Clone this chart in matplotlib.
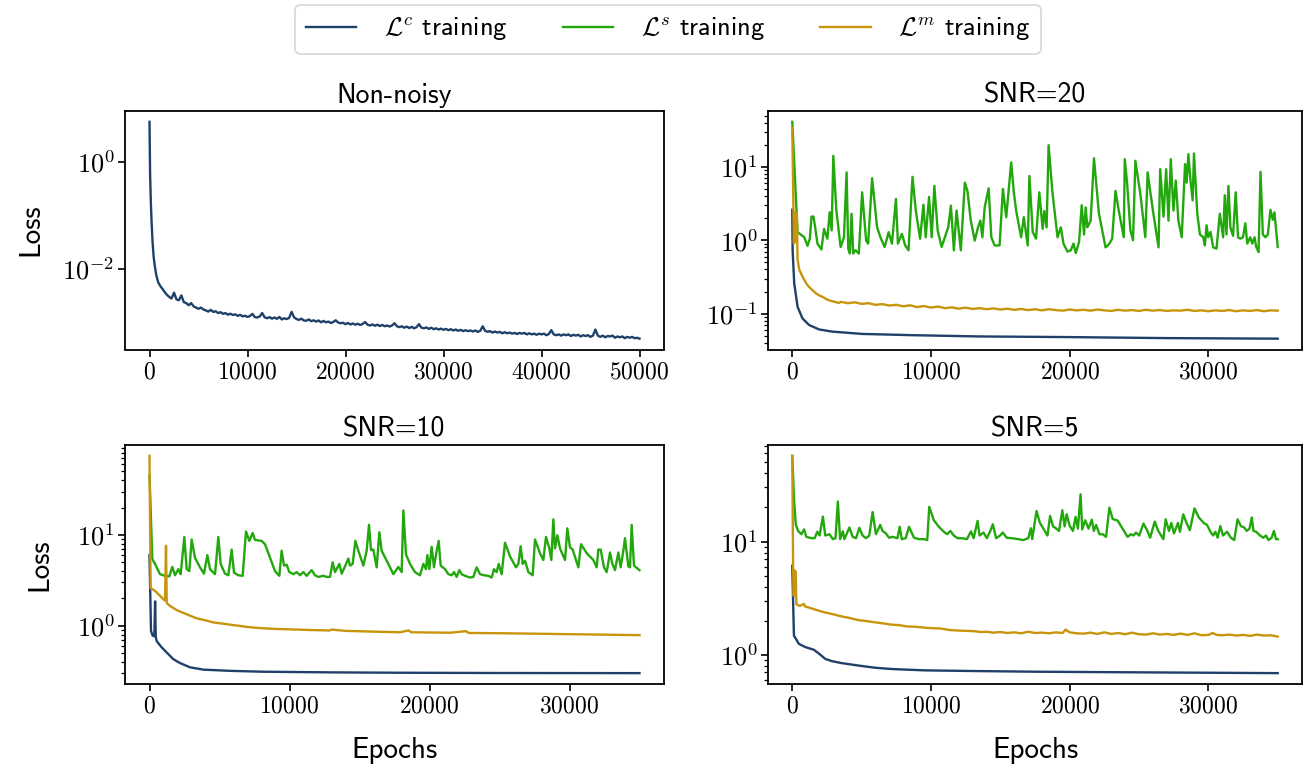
import numpy as np
import matplotlib
matplotlib.use("Agg")
import matplotlib.pyplot as plt
from matplotlib.ticker import FixedLocator, FuncFormatter, LogLocator, NullLocator, NullFormatter

# ---------------- data ----------------
series_labels = [r"$\mathcal{L}^c$ training", r"$\mathcal{L}^s$ training", r"$\mathcal{L}^m$ training"]
panel_titles = ["Non-noisy", "SNR=20", "SNR=10", "SNR=5"]

# Non-noisy, L^c : early decay, then a regular grid every 250 epochs
nn_c_ep_early = [0, 60, 134, 220, 312, 420, 534, 700, 890, 1100, 1336, 1700]
nn_c_val_early = [5.5, 0.6, 0.18, 0.07, 0.032, 0.017, 0.0115, 0.0075, 0.0056, 0.0048, 0.0042, 0.0034]
nn_c_ep_late = list(range(2000, 50001, 250))
nn_c_val_late = [
    0.0030, 0.0028, 0.0036, 0.0027, 0.0026, 0.0032, 0.0024, 0.0023, 0.0021, 0.0023, 0.0020, 0.0019,
    0.0018, 0.0019, 0.00175, 0.00168, 0.0016, 0.00172, 0.00158, 0.00162, 0.0015, 0.00156, 0.00145, 0.0015,
    0.0014, 0.00146, 0.00138, 0.00142, 0.00133, 0.00139, 0.0013, 0.00134, 0.00127, 0.00132, 0.00145, 0.00126,
    0.00124, 0.0013, 0.0015, 0.00125, 0.0012, 0.00126, 0.00118, 0.00124, 0.00117, 0.00127, 0.00114, 0.0012,
    0.00116, 0.00122, 0.00158, 0.00125, 0.00116, 0.00112, 0.00118, 0.00109, 0.00108, 0.00114, 0.00106, 0.0011,
    0.00104, 0.00109, 0.00101, 0.00107, 0.00101, 0.00104, 0.00098, 0.00102, 0.0011, 0.0010, 0.00097, 0.00099,
    0.00093, 0.00098, 0.00092, 0.00096, 0.00091, 0.00095, 0.0009, 0.00094, 0.00102, 0.00091, 0.00088, 0.00092,
    0.00087, 0.00091, 0.00086, 0.0009, 0.00085, 0.00088, 0.00084, 0.00088, 0.00097, 0.00085, 0.00082, 0.00085,
    0.0008, 0.00084, 0.00079, 0.00083, 0.00078, 0.00082, 0.00093, 0.0008, 0.00078, 0.00081, 0.00076, 0.0008,
    0.00075, 0.00078, 0.00074, 0.00077, 0.00073, 0.00076, 0.00072, 0.00075, 0.00071, 0.00074, 0.0007, 0.00073,
    0.00069, 0.00072, 0.00069, 0.00071, 0.00068, 0.00071, 0.00067, 0.0007, 0.00085, 0.0007, 0.00067, 0.00069,
    0.00065, 0.00068, 0.00065, 0.00067, 0.00063, 0.00066, 0.00063, 0.00065, 0.00062, 0.00064, 0.00061, 0.00064,
    0.00062, 0.00064, 0.0006, 0.00063, 0.0006, 0.00062, 0.00059, 0.00062, 0.0006, 0.00062, 0.00058, 0.00061,
    0.00072, 0.0006, 0.00058, 0.0006, 0.00057, 0.0006, 0.00058, 0.0006, 0.00056, 0.00059, 0.00057, 0.00059,
    0.00055, 0.00058, 0.00056, 0.00058, 0.00054, 0.00057, 0.00074, 0.00057, 0.00054, 0.00057, 0.00053, 0.00056,
    0.00055, 0.00057, 0.00052, 0.00055, 0.00053, 0.00055, 0.00051, 0.00054, 0.00052, 0.00054, 0.00051, 0.00052,
    0.0005]
nn_c_ep = nn_c_ep_early + nn_c_ep_late
nn_c_val = nn_c_val_early + nn_c_val_late

# SNR=20
s20_c_ep = [0, 25, 140, 382, 740, 1218, 1935, 2890, 5038, 8620, 13400, 20000, 27000, 35000]
s20_c_val = [2.6, 0.73, 0.26, 0.124, 0.086, 0.070, 0.061, 0.057, 0.053, 0.051, 0.049, 0.048, 0.0465, 0.0457]

s20_s_ep = [0, 382, 549, 860, 1098, 1266, 1385, 1528, 1648, 1815, 2101, 2292, 2531, 2698, 2841, 2960,
            3176, 3486, 3725, 3916, 4035, 4155, 4274, 4393, 4560, 4799, 5038, 5325, 5468, 5755, 6113,
            6352, 6662, 6948, 7187, 7474, 7617, 7904, 8142, 8381, 8668, 8906, 9217, 9455, 9622, 9861,
            10052, 10243, 10482, 10768, 11007, 11246, 11437, 11652, 11843, 12153, 12440, 12631, 12870,
            13156, 13395, 13562, 13705, 13872, 14159, 14350, 14589, 14947, 15186, 15425, 15544, 15783,
            15974, 16141, 16499, 16690, 16976, 17096, 17335, 17573, 17812, 18051, 18170, 18337, 18480,
            18767, 19125, 19364, 19555, 19841, 20080, 20271, 20438, 20677, 20868, 21035, 21155, 21274,
            21513, 21752, 22110, 22587, 22826, 23065, 23304, 23543, 23901, 23972, 24139, 24378, 24569,
            24736, 25094, 25452, 25619, 26001, 26407, 26526, 26765, 26956, 27123, 27290, 27481, 27648,
            27839, 28078, 28317, 28436, 28556, 28723, 28866, 28962, 29200, 29391, 29630, 29749, 29869,
            29988, 30155, 30346, 30585, 30824, 31062, 31182, 31301, 31444, 31588, 31779, 31970, 32137,
            32304, 32495, 32662, 32805, 33020, 33163, 33330, 33450, 33617, 33760, 33927, 34118, 34285,
            34476, 34643, 34762, 35000]
s20_s_val = [41, 1.29, 1.22, 1.10, 0.84, 1.05, 2.10, 2.10, 1.51, 0.90, 0.75, 1.43, 1.05, 2.41, 1.36, 14.1,
             2.54, 0.81, 1.10, 8.4, 0.77, 0.66, 2.29, 0.66, 0.73, 0.66, 4.5, 0.99, 0.90, 7.0, 1.51,
             1.10, 0.81, 1.29, 0.90, 3.65, 0.90, 1.22, 0.85, 0.73, 7.3, 2.54, 1.05, 3.05, 1.10, 3.9,
             1.10, 5.5, 1.36, 0.81, 1.10, 1.51, 2.96, 0.73, 2.54, 0.73, 6.1, 4.7, 1.85,
             0.99, 1.51, 1.85, 1.10, 2.81, 5.1, 1.10, 0.85, 0.85, 5.0, 2.06, 3.65, 11.5,
             4.5, 2.54, 1.10, 2.06, 0.85, 7.5, 1.3, 1.05, 4.5, 1.43, 2.5, 1.5, 19.7,
             4.3, 1.10, 1.5, 0.90, 0.70, 0.73, 0.90, 0.67, 0.95, 3.0, 1.2, 2.8, 1.5,
             1.85, 13.1, 2.3, 0.80, 0.88, 1.05, 4.7, 2.5, 1.10, 12.7, 6.1, 1.36, 1.0,
             12.1, 4.3, 1.10, 8.4, 2.54, 0.80, 9.3, 2.1, 9.3, 1.85, 12.7, 2.54, 6.5,
             1.85, 1.10, 10.9, 6.1, 14.9, 6.1, 3.5, 15.2, 2.3, 1.2, 1.1, 0.85, 1.6,
             1.1, 1.3, 0.80, 0.77, 2.3, 1.1, 4.1, 1.2, 5.5, 1.5, 1.15, 4.5, 1.1,
             1.05, 1.1, 1.7, 0.90, 1.1, 0.90, 1.1, 0.81, 0.69, 8.55, 1.2, 1.1, 1.2,
             2.6, 1.9, 2.4, 0.81]

s20_m_ep = [0, 120, 160, 200, 240, 280, 330, 360, 382, 500, 740, 1000, 1218, 1450, 1695, 2000, 2173,
            2400, 2650, 3000, 3367, 3500, 4000, 4500, 5000, 5500, 6000, 6500, 7000, 7500, 8000, 8500,
            9000, 9500, 10000, 10500, 11000, 11500, 12000, 12500, 13000, 13500, 14000, 14500, 15000,
            15500, 16000, 16500, 17000, 17500, 18000, 18500, 19000, 19500, 20000, 20500, 21000, 21500,
            22000, 22500, 23000, 23500, 24000, 24500, 25000, 25500, 26000, 26500, 27000, 27500, 28000,
            28500, 29000, 29500, 30000, 30500, 31000, 31500, 32000, 32500, 33000, 33500, 34000, 34500,
            35000]
s20_m_val = [34, 0.9, 2.4, 0.95, 2.4, 0.95, 2.35, 1.0, 0.55, 0.40, 0.32, 0.26, 0.23, 0.21, 0.19, 0.175,
             0.17, 0.16, 0.152, 0.146, 0.140, 0.145, 0.139, 0.143, 0.136, 0.139, 0.132, 0.135, 0.129,
             0.132, 0.126, 0.130, 0.123, 0.127, 0.121, 0.125, 0.119, 0.122, 0.117, 0.121, 0.116, 0.119,
             0.115, 0.118, 0.114, 0.117, 0.113, 0.116, 0.112, 0.115, 0.111, 0.115, 0.112, 0.110, 0.114,
             0.111, 0.113, 0.110, 0.114, 0.111, 0.109, 0.113, 0.110, 0.112, 0.109, 0.113, 0.110, 0.112,
             0.109, 0.111, 0.110, 0.113, 0.109, 0.111, 0.108, 0.111, 0.109, 0.112, 0.108, 0.111, 0.109,
             0.112, 0.108, 0.111, 0.110]

# SNR=10
s10_c_ep = [0, 107, 226, 345, 400, 450, 512, 869, 1226, 1702, 2179, 2893, 3845, 5750, 8131, 12893,
            17893, 25000, 35000]
s10_c_val = [6.0, 0.88, 0.78, 0.77, 1.86, 0.75, 0.68, 0.58, 0.51, 0.43, 0.39, 0.35, 0.33, 0.32, 0.313,
             0.308, 0.305, 0.303, 0.302]

s10_s_ep = [0, 202, 393, 750, 1107, 1417, 1631, 1821, 2060, 2226, 2488, 2655, 2845, 3012, 3250, 3607,
            3893, 4131, 4321, 4679, 4917, 5083, 5393, 5631, 5869, 6036, 6345, 6655, 6893, 7131, 7369,
            7536, 8012, 8250, 8607, 8964, 9274, 9440, 9607, 9798, 9988, 10274, 10512, 10750, 10988,
            11226, 11583, 11821, 12060, 12417, 12655, 12893, 13083, 13250, 13560, 13726, 13964, 14202,
            14321, 14512, 14702, 14917, 15274, 15512, 15679, 15821, 15988, 16226, 16417, 16583, 16893,
            17179, 17417, 17774, 18012, 18131, 18321, 18607, 18964, 19321, 19560, 19750, 19845, 19988,
            20155, 20321, 20512, 20655, 20798, 21107, 21345, 21583, 21750, 21941, 22131, 22298, 22536,
            22893, 23131, 23369, 23607, 23893, 24202, 24441, 24607, 24798, 24941, 25155, 25393, 25750,
            26179, 26345, 26512, 26655, 26822, 27060, 27369, 27536, 27893, 28131, 28322, 28560, 28703,
            28845, 28964, 29131, 29322, 29679, 29845, 30036, 30226, 30631, 30822, 31226, 31703, 31941,
            32060, 32226, 32465, 32655, 32893, 33060, 33250, 33488, 33655, 33845, 33964, 34203, 34322,
            34441, 34607, 34750, 35000]
s10_s_val = [45, 5.4, 4.8, 3.7, 3.55, 3.5, 4.45, 3.6, 4.2, 3.7, 9.5, 4.2, 4.0, 8.9, 5.6, 4.4,
             3.75, 6.0, 4.2, 3.7, 9.5, 4.8, 3.75, 3.6, 6.9, 3.85, 3.6, 3.55, 10.9, 8.6, 10.5,
             8.8, 8.6, 7.9, 5.6, 4.0, 3.55, 6.7, 4.6, 4.7, 3.9, 3.7, 3.9, 3.6, 3.9,
             3.55, 4.1, 3.6, 3.45, 3.55, 3.45, 3.45, 5.0, 3.9, 4.8, 3.75, 4.5, 5.5,
             4.6, 4.8, 8.6, 6.7, 4.6, 6.7, 12.9, 6.8, 6.9, 4.4, 10.7, 6.7, 5.4,
             4.4, 3.7, 4.45, 3.9, 18.6, 6.1, 4.8, 3.9, 3.6, 4.8, 4.2, 6.0, 4.2,
             7.4, 4.4, 6.7, 8.6, 4.6, 4.2, 3.7, 3.6, 3.9, 3.45, 4.1, 3.7, 3.55,
             3.4, 3.45, 4.4, 3.7, 3.6, 3.55, 3.4, 4.2, 3.9, 4.8, 3.7, 8.2, 5.8,
             4.4, 4.8, 7.5, 4.8, 5.2, 3.9, 3.6, 8.9, 6.3, 5.3, 9.5, 7.1, 5.3,
             14.8, 7.1, 9.9, 7.1, 5.3, 11.8, 7.3, 6.9, 4.4, 7.9, 6.3, 5.3, 4.4,
             6.9, 6.9, 4.4, 3.9, 6.4, 4.8, 4.1, 6.4, 4.4, 6.7, 9.2, 4.5, 4.4,
             12.9, 4.6, 4.4, 4.1]

s10_m_ep = [0, 80, 393, 750, 988, 1107, 1179, 1230, 1274, 1464, 1941, 2655, 3369, 4000, 4560, 5200,
            5750, 6400, 6940, 7500, 8131, 9000, 10512, 11500, 12893, 13000, 14000, 15274, 16500, 17893,
            18500, 18700, 20000, 21500, 22600, 22800, 25000, 27500, 30000, 32500, 35000]
s10_m_val = [74, 2.6, 2.43, 2.14, 1.96, 1.90, 7.6, 1.85, 1.75, 1.66, 1.49, 1.34, 1.21, 1.15, 1.09, 1.06,
             1.03, 1.00, 0.975, 0.955, 0.94, 0.925, 0.91, 0.90, 0.89, 0.91, 0.88, 0.87, 0.86, 0.85,
             0.89, 0.85, 0.845, 0.84, 0.875, 0.835, 0.83, 0.82, 0.81, 0.80, 0.79]

# SNR=5
s5_c_ep = [0, 120, 191, 478, 955, 1552, 1910, 2388, 2865, 3582, 4776, 5970, 7164, 9552, 13134, 17670,
           26000, 35000]
s5_c_val = [6.1, 1.48, 1.43, 1.25, 1.17, 1.11, 1.03, 0.92, 0.88, 0.845, 0.805, 0.77, 0.75, 0.73, 0.72,
            0.71, 0.70, 0.69]

s5_s_ep = [0, 131, 251, 418, 657, 848, 1015, 1385, 1612, 1803, 1970, 2209, 2376, 2686, 2925, 3116, 3283,
           3451, 3642, 3761, 3952, 4119, 4358, 4597, 4836, 5074, 5313, 5552, 5791, 6030, 6340, 6507,
           6746, 6985, 7224, 7582, 7749, 7892, 8179, 8418, 8776, 9134, 9492, 9731, 9874, 10208, 10567,
           10925, 11163, 11402, 11641, 11928, 12238, 12597, 12883, 13074, 13360, 13503, 13790, 14028,
           14267, 14458, 14697, 14984, 15175, 15461, 15819, 16297, 16655, 17013, 17203, 17299, 17609,
           17848, 18206, 18397, 18588, 18803, 19042, 19233, 19472, 19639, 19782, 19997, 20236, 20427,
           20594, 20785, 20905, 21120, 21358, 21597, 21740, 21908, 22147, 22385, 22624, 22863, 23102,
           23460, 23818, 24176, 24415, 24606, 24773, 25012, 25322, 25609, 25800, 26134, 26373, 26755,
           26922, 27161, 27328, 27519, 27806, 27949, 28188, 28426, 28665, 29000, 29310, 29668, 29907,
           30146, 30337, 30504, 30671, 30862, 31053, 31340, 31626, 31865, 32104, 32343, 32581, 32772,
           32963, 33130, 33250, 33441, 33727, 33966, 34157, 34324, 34563, 34730, 34873, 35000]
s5_s_val = [57, 22.8, 14.2, 12.4, 11.6, 12.8, 11.0, 10.7, 10.7, 12.2, 11.3, 16.6, 11.3, 11.6, 10.5, 10.7, 22.5,
            10.5, 12.3, 10.5, 11.9, 13.3, 11.0, 10.7, 13.2, 11.3, 10.7, 11.3, 18.2, 11.6, 14.0, 12.4,
            11.8, 10.8, 11.0, 10.7, 13.5, 10.5, 10.7, 13.5, 10.8, 10.5, 10.5, 10.3, 20.2, 15.4, 13.5,
            12.2, 11.6, 12.4, 11.3, 10.7, 10.7, 10.5, 12.3, 10.7, 15.2, 11.3, 12.0, 10.7,
            12.3, 14.2, 10.7, 11.3, 12.0, 10.8, 10.7, 10.5, 10.3, 10.7, 13.1, 10.5, 18.6,
            14.7, 12.4, 11.3, 16.8, 13.6, 13.0, 12.4, 18.9, 13.6, 17.4, 13.8, 12.4, 16.5,
            13.0, 26.1, 12.8, 15.4, 13.0, 15.6, 12.4, 14.0, 11.6, 11.6, 11.0, 19.9, 15.8,
            15.3, 13.0, 11.0, 11.6, 11.3, 12.0, 11.3, 14.4, 12.4, 10.8, 15.0, 12.5, 10.5,
            15.7, 12.4, 14.6, 11.8, 14.6, 12.2, 17.4, 14.6, 12.6, 19.6, 16.3, 14.6, 14.0,
            12.2, 11.3, 12.2, 10.8, 13.7, 11.3, 12.2, 10.8, 10.3, 15.7, 13.7, 13.3, 12.4,
            13.0, 16.3, 12.4, 12.2, 11.3, 10.8, 11.3, 10.3, 10.8, 12.4, 10.5, 10.5]

s5_m_ep = [0, 60, 110, 150, 200, 250, 298, 537, 848, 900, 1134, 1700, 2328, 2900, 3522, 4100, 4716, 5300,
           5910, 6500, 7104, 7700, 8298, 8900, 9492, 10100, 10686, 11300, 11880, 12500, 13074, 13600,
           14000, 14500, 15000, 15500, 16000, 16500, 17000, 17500, 18000, 18500, 19000, 19500, 19700,
           20000, 20500, 21000, 21500, 22000, 22500, 23000, 23500, 24000, 24500, 25000, 25500, 26000,
           26500, 27000, 27500, 28000, 28500, 29000, 29500, 30000, 30300, 30600, 31000, 31500, 32000,
           32500, 33000, 33500, 34000, 34500, 35000]
s5_m_val = [57, 5.7, 3.3, 5.6, 3.3, 5.4, 2.8, 2.7, 2.82, 2.68, 2.63, 2.50, 2.37, 2.29, 2.19, 2.12, 2.03,
            1.99, 1.94, 1.90, 1.85, 1.83, 1.78, 1.77, 1.74, 1.72, 1.71, 1.66, 1.64, 1.63, 1.62, 1.59,
            1.60, 1.57, 1.59, 1.56, 1.58, 1.55, 1.60, 1.56, 1.57, 1.55, 1.58, 1.56, 1.67,
            1.58, 1.55, 1.54, 1.57, 1.53, 1.58, 1.53, 1.56, 1.52, 1.57, 1.52, 1.51, 1.55,
            1.51, 1.53, 1.50, 1.54, 1.50, 1.55, 1.49, 1.50, 1.56, 1.50, 1.49, 1.51, 1.48,
            1.50, 1.47, 1.51, 1.48, 1.49, 1.45]

x_ticks_50k = [0, 10000, 20000, 30000, 40000, 50000]
x_ticks_35k = [0, 10000, 20000, 30000]

# ---------------- style ----------------
plt.rcParams.update({
    "font.family": ["cmss10", "DejaVu Sans"],
    "mathtext.fontset": "cm",
    "axes.unicode_minus": False,
    "axes.linewidth": 1.3,
    "xtick.major.width": 1.2,
    "ytick.major.width": 1.2,
    "ytick.minor.width": 0.9,
    "xtick.major.size": 5,
    "ytick.major.size": 5,
    "ytick.minor.size": 3,
    "xtick.major.pad": 3.5,
    "ytick.major.pad": 2.5,
})

col_c = "#1f4068"
col_s = "#22a80c"
col_m = "#c8940c"
lw = 1.7
fs_title = 20
fs_label = 21
fs_xtick = 17
fs_ytick = 19
fs_leg = 19

W, H = 1305, 769
fig = plt.figure(figsize=(W / 100, H / 100), dpi=100)


def add_ax(l, r, t, b):
    return fig.add_axes([l / W, 1 - b / H, (r - l) / W, (b - t) / H])


ax_nn = add_ax(125, 664, 111, 349.5)
ax_20 = add_ax(768, 1302, 111, 349.5)
ax_10 = add_ax(125, 664, 445, 684)
ax_5 = add_ax(768, 1302, 445, 684)

xfmt = FuncFormatter(lambda v, p: f"${int(round(v))}$")
yfmt = FuncFormatter(lambda v, p: f"$10^{{{int(round(np.log10(v)))}}}$")

handles = []
h, = ax_nn.plot(nn_c_ep, nn_c_val, color=col_c, lw=lw)
handles.append(h)

for ax, ce, cv, se, sv, me, mv in [
    (ax_20, s20_c_ep, s20_c_val, s20_s_ep, s20_s_val, s20_m_ep, s20_m_val),
    (ax_10, s10_c_ep, s10_c_val, s10_s_ep, s10_s_val, s10_m_ep, s10_m_val),
    (ax_5, s5_c_ep, s5_c_val, s5_s_ep, s5_s_val, s5_m_ep, s5_m_val),
]:
    h1, = ax.plot(ce, cv, color=col_c, lw=lw)
    h2, = ax.plot(se, sv, color=col_s, lw=lw)
    h3, = ax.plot(me, mv, color=col_m, lw=lw)
    if len(handles) == 1:
        handles += [h2, h3]

for ax, title in zip([ax_nn, ax_20, ax_10, ax_5], panel_titles):
    ax.set_yscale("log")
    ax.set_title(title, fontsize=fs_title, pad=6)
    ax.yaxis.set_major_formatter(yfmt)
    ax.yaxis.set_minor_formatter(NullFormatter())
    ax.xaxis.set_major_formatter(xfmt)
    ax.tick_params(axis="x", labelsize=fs_xtick)
    ax.tick_params(axis="y", labelsize=fs_ytick)

ax_nn.xaxis.set_major_locator(FixedLocator(x_ticks_50k))
for ax in [ax_20, ax_10, ax_5]:
    ax.xaxis.set_major_locator(FixedLocator(x_ticks_35k))
    ax.yaxis.set_minor_locator(LogLocator(base=10, subs=np.arange(2, 10), numticks=20))

ax_nn.yaxis.set_major_locator(FixedLocator([1e-2, 1e0]))
ax_nn.yaxis.set_minor_locator(NullLocator())
ax_20.yaxis.set_major_locator(FixedLocator([1e-1, 1e0, 1e1]))
ax_10.yaxis.set_major_locator(FixedLocator([1e0, 1e1]))
ax_5.yaxis.set_major_locator(FixedLocator([1e0, 1e1]))

ax_nn.set_ylabel("Loss", fontsize=fs_label, labelpad=13)
ax_10.set_ylabel("Loss", fontsize=fs_label, labelpad=17)
ax_10.set_xlabel("Epochs", fontsize=fs_label, labelpad=14)
ax_5.set_xlabel("Epochs", fontsize=fs_label, labelpad=14)

leg = fig.legend(handles, series_labels, loc="upper center", bbox_to_anchor=(668 / W, 1 - 5 / H),
                 borderaxespad=0, ncol=3, fontsize=fs_leg, frameon=True, fancybox=True,
                 edgecolor="#cccccc", handlelength=1.9, handletextpad=1.05, columnspacing=2.1,
                 borderpad=0.4)
leg.get_frame().set_linewidth(1.2)

fig.savefig("out.png", dpi=100)
